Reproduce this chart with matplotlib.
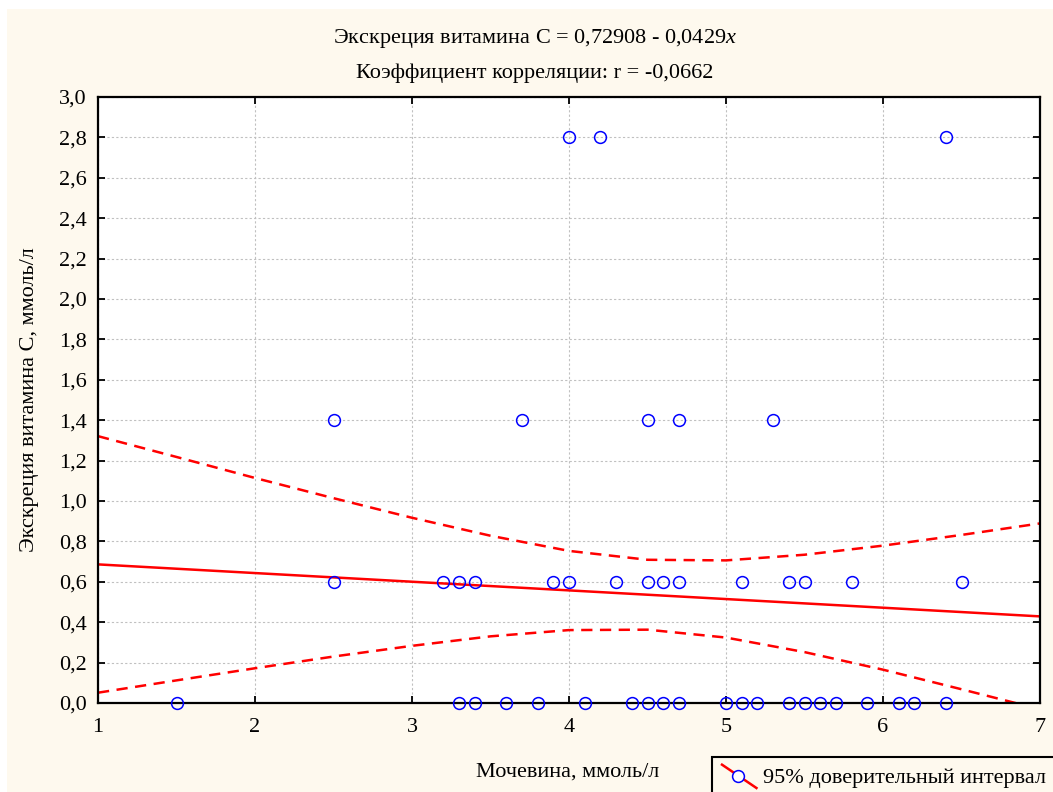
import numpy as np
import matplotlib
matplotlib.use("Agg")
import matplotlib.pyplot as plt
from matplotlib.patches import Rectangle
from matplotlib.lines import Line2D
from matplotlib.legend_handler import HandlerBase
from matplotlib.ticker import FuncFormatter

plt.rcParams['font.family'] = ['Liberation Serif', 'DejaVu Serif']
plt.rcParams['mathtext.fontset'] = 'custom'
plt.rcParams['mathtext.rm'] = 'Liberation Serif'
plt.rcParams['mathtext.it'] = 'Liberation Serif:italic'

# data (x: urea, y: vitamin C excretion)
x_y0 = [1.5, 3.3, 3.4, 3.6, 3.8, 4.1, 4.4, 4.5, 4.6, 4.7, 5.0, 5.1, 5.2,
        5.4, 5.5, 5.6, 5.7, 5.9, 6.1, 6.2, 6.4]
x_y06 = [2.5, 3.2, 3.3, 3.4, 3.9, 4.0, 4.3, 4.5, 4.6, 4.7, 5.1, 5.4, 5.5, 5.8, 6.5]
x_y14 = [2.5, 3.7, 4.5, 4.7, 5.3]
x_y28 = [4.0, 4.2, 6.4]
y_levels = [0.0, 0.6, 1.4, 2.8]

# regression from the title
intercept = 0.72908
slope = -0.0429
r_value = -0.0662

# 95% confidence band
band_x = [1.0, 1.5, 2.0, 2.5, 3.0, 3.5, 4.0, 4.5, 5.0, 5.5, 6.0, 6.5, 7.0]
band_upper = [1.321, 1.218, 1.114, 1.014, 0.917, 0.828, 0.753, 0.709, 0.706,
              0.734, 0.779, 0.832, 0.889]
band_lower = [0.051, 0.112, 0.172, 0.230, 0.283, 0.330, 0.361, 0.363, 0.324,
              0.252, 0.165, 0.068, -0.031]

xs = np.concatenate([x_y0, x_y06, x_y14, x_y28])
ys = np.concatenate([np.full(len(x_y0), y_levels[0]), np.full(len(x_y06), y_levels[1]),
                     np.full(len(x_y14), y_levels[2]), np.full(len(x_y28), y_levels[3])])

FS = 16

fig = plt.figure(figsize=(10.53, 7.92), dpi=100)
fig.patch.set_facecolor('white')
fig.patches.append(Rectangle((7 / 1053, 0), 1, 1 - 9 / 792, transform=fig.transFigure,
                             facecolor='#fef9ee', edgecolor='none', zorder=-10))

ax = fig.add_axes([98 / 1053, 1 - 703 / 792, (1040 - 98) / 1053, (703 - 97) / 792])
ax.set_facecolor('white')

ax.plot(xs, ys, 'o', mfc='none', mec='blue', ms=8.5, mew=1.1, zorder=3, clip_on=False)
lx = np.array([1, 7])
ax.plot(lx, intercept + slope * lx, color='red', lw=1.8, zorder=2)
ax.plot(band_x, band_upper, color='red', lw=1.8, ls=(0, (4.5, 3)), zorder=2)
ax.plot(band_x, band_lower, color='red', lw=1.8, ls=(0, (4.5, 3)), zorder=2)

ax.set_xlim(1, 7)
ax.set_ylim(0, 3.0)
ax.set_xticks(np.arange(1, 8, 1))
ax.set_yticks(np.arange(0, 3.01, 0.2))
ax.yaxis.set_major_formatter(FuncFormatter(lambda v, p: f'{v:.1f}'.replace('.', ',')))
ax.grid(True, color='#c0c0c0', ls=(0, (2, 2)), lw=0.8)
ax.set_axisbelow(True)
for s in ax.spines.values():
    s.set_linewidth(1.6)
    s.set_color('black')
ax.tick_params(direction='in', length=5, width=1.3, labelsize=FS,
               top=True, right=True)
ax.tick_params(axis='x', pad=11)
ax.tick_params(axis='y', pad=8)

fig.text(0.508, 1 - 39 / 792, 'Экскреция витамина C = 0,72908 - 0,0429$\\it{x}$',
         ha='center', va='center', fontsize=FS)
fig.text(0.508, 1 - 73 / 792, f'Коэффициент корреляции: r = {r_value:.4f}'.replace('.', ','),
         ha='center', va='center', fontsize=FS)
fig.text(568 / 1053, 1 - 772 / 792, 'Мочевина, ммоль/л', ha='center', va='center', fontsize=FS)
fig.text(30 / 1053, 1 - 400 / 792, 'Экскреция витамина C, ммоль/л', ha='center', va='center',
         rotation=90, fontsize=FS)


class DiagHandler(HandlerBase):
    def create_artists(self, legend, orig_handle, xdescent, ydescent, width, height,
                       fontsize, trans):
        ln = Line2D([0, width], [height * 1.15, -height * 0.35], color='red', lw=1.8,
                    transform=trans)
        mk = Line2D([width * 0.45], [height * 0.4], marker='o', mfc='white', mec='blue',
                    ms=8.5, mew=1.1, transform=trans)
        return [ln, mk]


handle = Line2D([], [])
leg = fig.legend([handle], ['95% доверительный интервал'], loc='upper left',
                 bbox_to_anchor=(712 / 1053, 1 - 757 / 792), bbox_transform=fig.transFigure,
                 fancybox=False, edgecolor='black', framealpha=1, facecolor='#fef9ee',
                 fontsize=FS, handlelength=1.55, borderpad=0.45, handletextpad=0.3,
                 borderaxespad=0, handler_map={Line2D: DiagHandler()})
leg.get_frame().set_linewidth(1.5)

fig.savefig('out.png', dpi=100)
